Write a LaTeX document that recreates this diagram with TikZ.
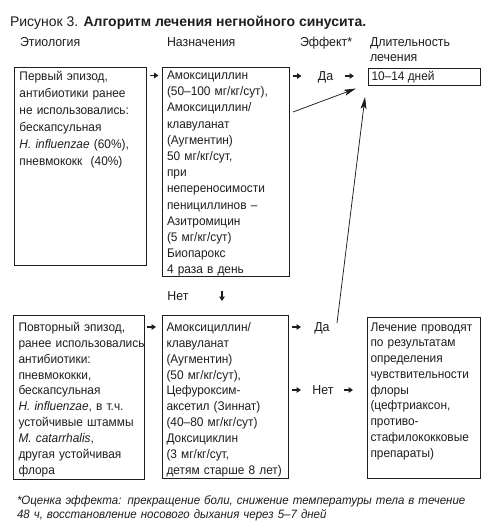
\documentclass[tikz,border=0pt]{standalone}
\usepackage{fontspec}
\setmainfont{Liberation Sans}
\newfontfamily\nfont[FakeStretch=0.95]{Liberation Sans}
\usetikzlibrary{arrows.meta}
\definecolor{ink}{HTML}{1E1E1E}
\begin{document}
\begin{tikzpicture}[x=1pt,y=-1pt,
  every node/.style={inner sep=0pt, outer sep=0pt, text=ink},
  box/.style={draw=ink, line width=0.8pt, anchor=north west},
  txt/.style={anchor=north west, align=left, text width=170pt, font=\nfont\fontsize{12.5}{16.2}\selectfont},
  txtlow/.style={txt, font=\nfont\fontsize{12.5}{15.9}\selectfont},
  hdr/.style={anchor=base west, font=\nfont\fontsize{13}{15}\selectfont},
  lbl/.style={anchor=base, font=\nfont\fontsize{13}{15}\selectfont},
  sarr/.style={draw=ink, line width=1.4pt, -{Triangle[length=4.5pt,width=5.5pt]}},
  darr/.style={draw=ink, line width=1.4pt, -{Triangle[length=4.5pt,width=5.5pt]}},
  larr/.style={draw=ink, line width=0.75pt, -{Stealth[length=12pt,width=6pt,inset=2.5pt]}}
]
\useasboundingbox[fill=white] (0,0) rectangle (500,532);

% title and headers
\node[anchor=base west, font=\fontsize{14}{16}\selectfont] (title) at (10,26.5)
  {Рисунок 3. \textbf{Алгоритм лечения негнойного синусита.}};
\node[hdr] (h1) at (20,46.5) {Этиология};
\node[hdr] (h2) at (167,46.5) {Назначения};
\node[hdr] (h3) at (300,46.5) {Эффект*};
\node[hdr] (h4) at (370,46.5) {Длительность};
\node[hdr] (h5) at (370,61.5) {лечения};

% upper boxes
\node[box, minimum width=132pt, minimum height=198pt] (b1) at (14,67) {};
\node[box, minimum width=127pt, minimum height=209pt] (b2) at (162,67) {};
\node[box, minimum width=112pt, minimum height=17pt] (b3) at (368,68) {};

\node[txt, font=\nfont\fontsize{12.5}{17}\selectfont] (t1) at (19.5,68.2) {\strut Первый эпизод,\\
антибиотики ранее\\
не использовались:\\
бескапсульная\\
\textit{H. influenzae} (60\%),\\
пневмококк~ (40\%)};

\node[txt] (t2) at (167,68.2) {\strut Амоксициллин\\
(50–100 мг/кг/сут),\\
Амоксициллин/\\
клавуланат\\
(Аугментин)\\
50 мг/кг/сут,\\
при\\
непереносимости\\
пенициллинов –\\
Азитромицин\\
(5 мг/кг/сут)\\
Биопарокс\\
4 раза в день};

\node[anchor=base west, font=\nfont\fontsize{12.5}{15}\selectfont] (t3) at (371.5,80.5) {10–14 дней};

% upper arrows and labels
\coordinate (p1a) at (149.5,75.5); \coordinate (p1b) at (158.5,75.5);
\draw[sarr] (p1a) -- (p1b);
\coordinate (p2a) at (292.5,76); \coordinate (p2b) at (301.5,76);
\draw[sarr] (p2a) -- (p2b);
\node[lbl] (da1) at (325.5,80.5) {Да};
\coordinate (p3a) at (345,76); \coordinate (p3b) at (354,76);
\draw[sarr] (p3a) -- (p3b);

\coordinate (la1) at (293,112); \coordinate (la2) at (356,88.5);
\draw[larr] (la1) -- (la2);

% middle "Нет"
\node[lbl] (net1) at (178,300.5) {Нет};
\coordinate (dn1) at (222,291); \coordinate (dn2) at (222,301);
\draw[darr] (dn1) -- (dn2);

% lower boxes
\node[box, minimum width=131pt, minimum height=164pt] (b4) at (13,315) {};
\node[box, minimum width=126pt, minimum height=163pt] (b5) at (162,315) {};
\node[box, minimum width=113pt, minimum height=161pt] (b6) at (367,317) {};

\node[txtlow] (t4) at (18.5,320.2) {\strut Повторный эпизод,\\
ранее использовались\\
антибиотики:\\
пневмококки,\\
бескапсульная\\
\textit{H. influenzae}, в т.ч.\\
устойчивые штаммы\\
\textit{M. catarrhalis},\\
другая устойчивая\\
флора};

\node[txtlow] (t5) at (166.5,320.2) {\strut Амоксициллин/\\
клавуланат\\
(Аугментин)\\
(50 мг/кг/сут),\\
Цефуроксим-\\
аксетил (Зиннат)\\
(40–80 мг/кг/сут)\\
Доксициклин\\
(3 мг/кг/сут,\\
детям старше 8 лет)};

\node[txt, font=\nfont\fontsize{12.5}{15.75}\selectfont] (t6) at (370.5,320.2) {\strut Лечение проводят\\
по результатам\\
определения\\
чувствительности\\
флоры\\
(цефтриаксон,\\
противо-\\
стафилококковые\\
препараты)};

% lower arrows and labels
\coordinate (q1a) at (147,327); \coordinate (q1b) at (156,327);
\draw[sarr] (q1a) -- (q1b);
\coordinate (q2a) at (292,327); \coordinate (q2b) at (301,327);
\draw[sarr] (q2a) -- (q2b);
\node[lbl] (da2) at (322,331.5) {Да};
\coordinate (q3a) at (292,390); \coordinate (q3b) at (301,390);
\draw[sarr] (q3a) -- (q3b);
\node[lbl] (net2) at (323,394.5) {Нет};
\coordinate (q4a) at (344,390); \coordinate (q4b) at (353,390);
\draw[sarr] (q4a) -- (q4b);

\coordinate (lb1) at (337,323); \coordinate (lb2) at (365,97);
\draw[larr] (lb1) -- (lb2);

% footnote
\node[anchor=north west, align=left, text width=480pt, font=\nfont\fontsize{12.1}{14}\selectfont\itshape] (fn) at (17,494.8)
  {\strut *Оценка эффекта: прекращение боли, снижение температуры тела в течение\\
48 ч, восстановление носового дыхания через 5–7 дней};
\end{tikzpicture}
\end{document}
